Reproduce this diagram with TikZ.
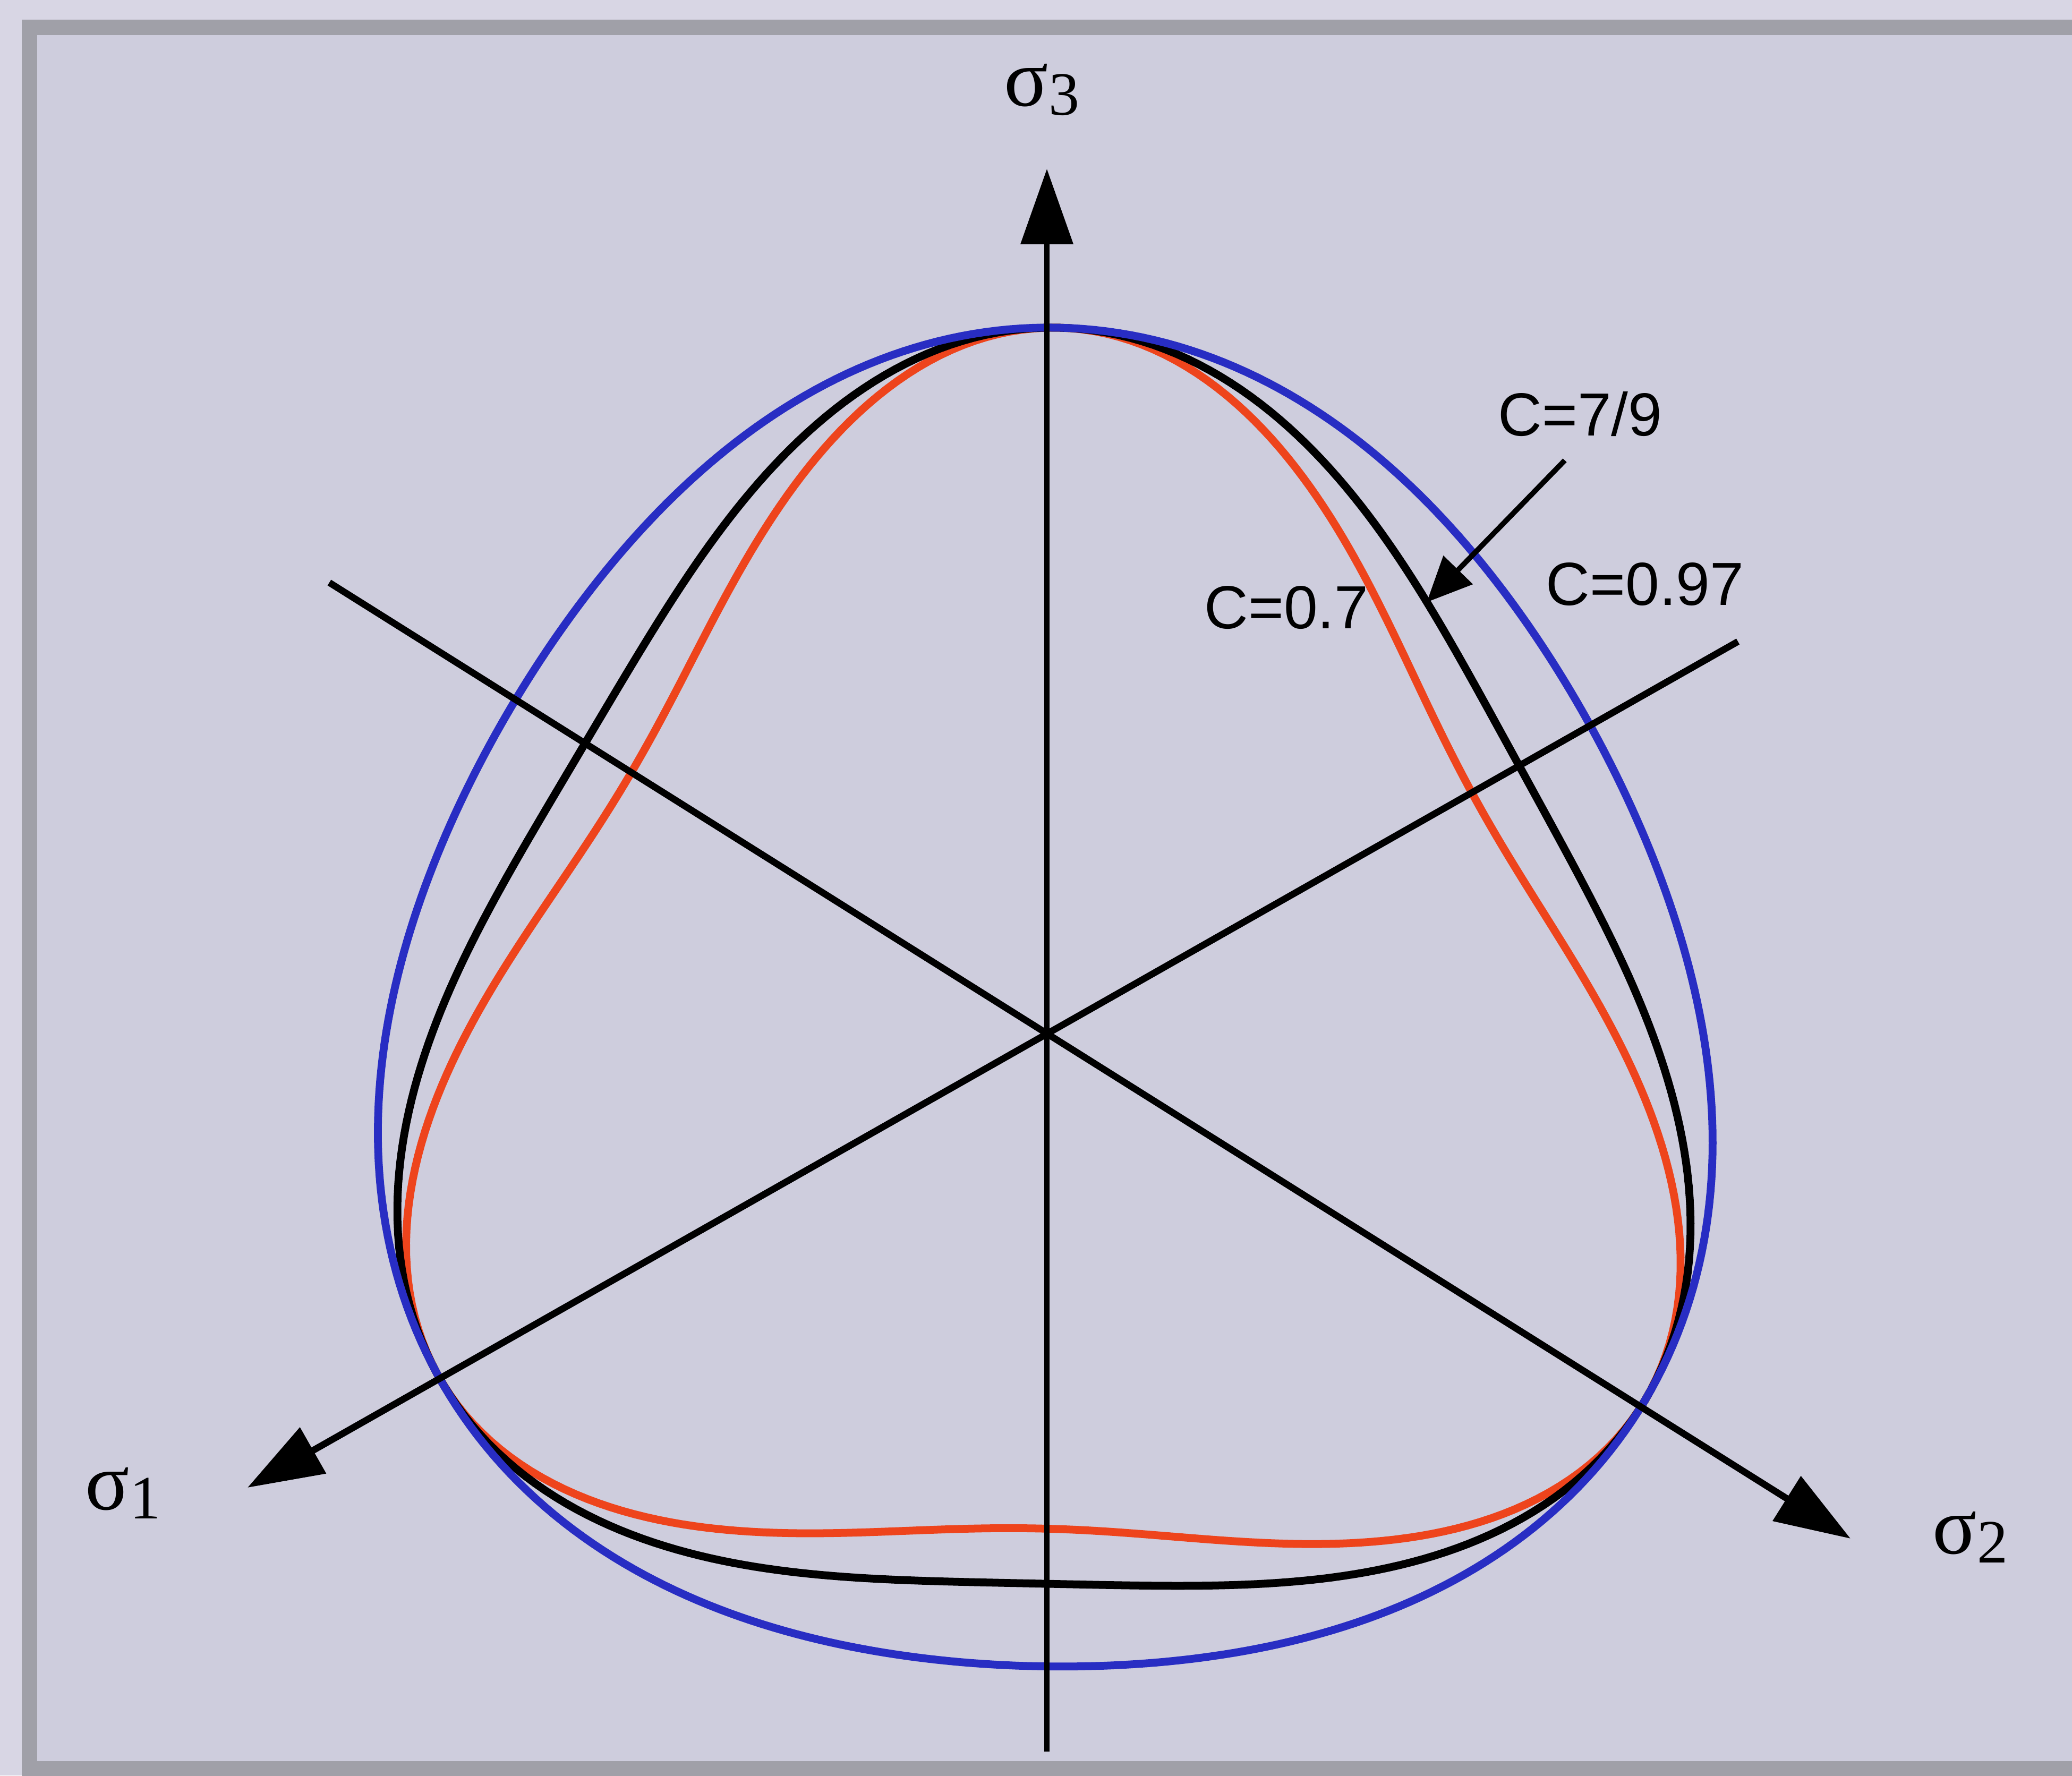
\documentclass[tikz,border=0pt]{standalone}
\usepackage{fontspec}
\setmainfont{Liberation Serif}
\newfontfamily\labelfont{Liberation Sans}
\usetikzlibrary{arrows.meta}
\definecolor{outerbg}{RGB}{216,214,228}
\definecolor{innerbg}{RGB}{206,205,221}
\definecolor{framegray}{RGB}{160,160,168}
\definecolor{curveblue}{RGB}{40,45,195}
\definecolor{curvered}{RGB}{238,68,28}
\newcommand{\sigmalbl}[1]{\fontsize{44}{44}\selectfont σ\raisebox{-0.17cm}{\fontsize{33}{33}\selectfont #1}}

\begin{document}
\begin{tikzpicture}[
    axis/.style={line width=3.6pt, -{Triangle[length=1.42cm,width=0.97cm]}},
    pointer/.style={line width=2.8pt, -{Triangle[length=0.85cm,width=0.75cm]}},
    yieldcurve/.style={line width=4.2pt, line join=round},
    clabel/.style={inner sep=0pt, anchor=base, font=\labelfont\fontsize{32.6}{32.6}\selectfont},
    slabel/.style={inner sep=0pt, anchor=base west}
  ]
  \useasboundingbox (0,0) rectangle (39.01,33.43);
  \fill[outerbg] (0,0) rectangle (39.01,33.43);
  \filldraw[fill=innerbg, draw=framegray, line width=0.29cm] (0.55,0.13) rectangle (39.5,32.91);

  \coordinate (O) at (19.71,13.96);
  \coordinate (s3tip) at (19.71,30.25);
  \coordinate (s3end) at (19.71,0.45);
  \coordinate (s1tip) at (4.66,5.42);
  \coordinate (s1end) at (32.72,21.35);
  \coordinate (s2tip) at (34.84,4.46);
  \coordinate (s2end) at (6.20,22.46);
  \coordinate (p79) at (26.86,22.09);

  \foreach \K/\col in {0.7/curvered, 0.778/black, 0.895/curveblue}
  {
    \draw[yieldcurve, \col, shift={(O)}, cm={0.987,-0.021,0.016,1,(0,0)}]
      plot[domain=0:360, samples=361] (\x:{13.3*2*\K/((1+\K)+(1-\K)*sin(3*\x))}) -- cycle;
  }

  \draw[axis, line width=3.1pt] (s3end) -- (s3tip);
  \draw[axis] (s1end) -- (s1tip);
  \draw[axis] (s2end) -- (s2tip);

  \node[slabel] (s3lbl) at (18.90,31.43) {\sigmalbl{3}};
  \node[slabel] (s1lbl) at (1.60,5.01) {\sigmalbl{1}};
  \node[slabel] (s2lbl) at (36.38,4.18) {\sigmalbl{2}};

  \node[clabel] (c79) at (29.75,25.22) {C=7/9};
  \node[clabel] (c097) at (30.97,22.03) {C=0.97};
  \node[clabel] (c07) at (24.22,21.59) {C=0.7};
  \draw[pointer] ([shift={(-0.29,-0.44)}]c79.south) -- (p79);
\end{tikzpicture}
\end{document}
